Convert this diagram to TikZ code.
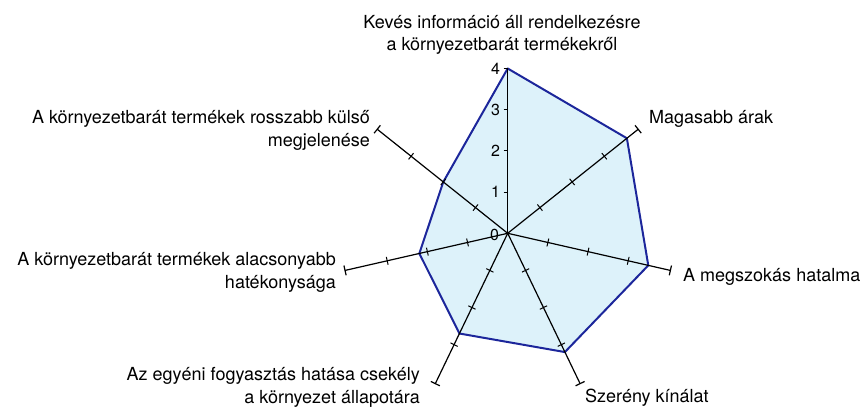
\documentclass[tikz,border=0pt]{standalone}
\usepackage{fontspec}
\setmainfont{TeX Gyre Heros}
\usetikzlibrary{calc}
\definecolor{polyfillc}{RGB}{221,242,250}
\definecolor{polyedgec}{RGB}{28,38,155}
\begin{document}
\begin{tikzpicture}[x=1pt,y=1pt,
  axisline/.style={black,line width=1.2pt},
  polyedge/.style={draw=polyedgec,fill=polyfillc,line width=2pt,line join=round},
  lab/.style={font=\fontsize{18}{22.5}\selectfont,inner sep=0pt},
  numlab/.style={font=\fontsize{16}{18}\selectfont,inner sep=0pt,anchor=east}]
\useasboundingbox (0,0) rectangle (864,409);
\coordinate (O) at (507.7,175.7);
\def\u{41.2}
% data polygon
\foreach \i/\v in {0/4,1/3.7,2/3.5,3/3.2,4/2.7,5/2.2,6/2.0}
  \path (O) ++({90-\i*360/7}:{\v*\u}) coordinate (v\i);
\path[polyedge] (v0)--(v1)--(v2)--(v3)--(v4)--(v5)--(v6)--cycle;
% top axis with scale
\path (O) ++(90:{4*\u}) coordinate (e0);
\draw[axisline] (O) -- (e0);
\foreach \k in {1,2,3,4}{
  \draw[axisline,line width=1pt] (O) ++(0,{\k*\u}) ++(-4,0) -- ++(4,0);
  \node[numlab] (n\k) at ($(O)+(-7.5,{\k*\u})$) {\k};
}
\node[numlab] (n0) at ($(O)+(-8.5,-1.5)$) {0};
% other axes
\foreach \i in {1,...,6}{
  \pgfmathsetmacro{\a}{90-\i*360/7}
  \pgfmathsetmacro{\p}{-\i*360/7}
  \path (O) ++(\a:{4.05*\u}) coordinate (e\i);
  \draw[axisline] (O) -- (e\i);
  \foreach \k in {1,2,3}
    \draw[axisline,line width=1pt] (O) ++(\a:{\k*\u}) ++(\p:4) -- ++(\p+180:8);
  \draw[axisline] (e\i) ++(\p:5) -- ++(\p+180:10);
}
% labels
\node[lab,align=center] (lab0) at (502,374) {Kevés információ áll rendelkezésre\\a környezetbarát termékekről};
\node[lab,anchor=west] (lab1) at (649,290) {Magasabb árak};
\node[lab,anchor=west] (lab2) at (683,132) {A megszokás hatalma};
\node[lab,anchor=west] (lab3) at (585,11) {Szerény kínálat};
\node[lab,align=right,anchor=east] (lab4) at (420,21.5) {Az egyéni fogyasztás hatása csekély\\a környezet állapotára};
\node[lab,align=right,anchor=east] (lab5) at (336,136.5) {A környezetbarát termékek alacsonyabb\\hatékonysága};
\node[lab,align=right,anchor=east] (lab6) at (370,278.5) {A környezetbarát termékek rosszabb külső\\megjelenése};
\end{tikzpicture}
\end{document}
